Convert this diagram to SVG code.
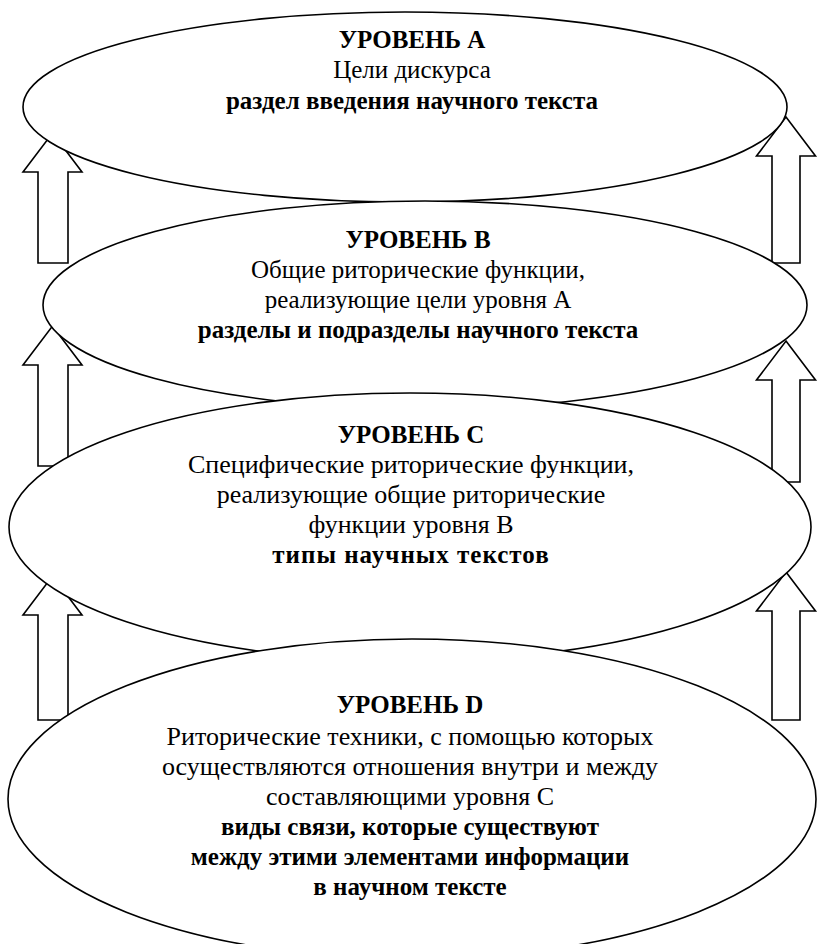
<svg xmlns="http://www.w3.org/2000/svg" width="824" height="944" viewBox="0 0 824 944">
<style>
.shape{fill:#fff;stroke:#000;stroke-width:1.6}
.arrow{fill:#fff;stroke:#000;stroke-width:1.6;stroke-linejoin:miter}
text{font-family:"Liberation Serif","Times New Roman",serif;font-size:25px;fill:#000;text-anchor:middle}
.b{font-weight:bold}
.r{font-size:26px}
</style>
<rect width="824" height="944" fill="#fff"/>
<g id="connectors">
<polygon class="arrow" points="52.5,133 82,172 68,172 68,263 38,263 38,172 23,172"/>
<polygon class="arrow" points="786,117 815.5,156 800,156 800,263 772,263 772,156 756.5,156"/>
<polygon class="arrow" points="52.5,326 82,365 68,365 68,466 38,466 38,365 23,365"/>
<polygon class="arrow" points="786,341 815.5,380 800,380 800,482 772,482 772,380 756.5,380"/>
<polygon class="arrow" points="52.5,576 82,615 68,615 68,720 38,720 38,615 23,615"/>
<polygon class="arrow" points="786,572 815.5,611 800,611 800,720 772,720 772,611 756.5,611"/>
</g>
<g id="levelA">
<ellipse class="shape" cx="405" cy="107" rx="382" ry="95"/>
<text class="b" x="412" y="48">УРОВЕНЬ А</text>
<text x="412" y="78">Цели дискурса</text>
<text class="b" x="412" y="109">раздел введения научного текста</text>
</g>
<g id="levelB">
<ellipse class="shape" cx="425" cy="305" rx="382" ry="104"/>
<text class="b" x="418" y="248">УРОВЕНЬ В</text>
<text x="418" y="278">Общие риторические функции,</text>
<text x="418" y="308">реализующие цели уровня А</text>
<text class="b" x="418" y="338">разделы и подразделы научного текста</text>
</g>
<g id="levelC">
<ellipse class="shape" cx="410" cy="527" rx="401" ry="134"/>
<text class="b" x="411" y="443">УРОВЕНЬ С</text>
<text class="r" x="411" y="473">Специфические риторические функции,</text>
<text class="r" x="411" y="503">реализующие общие риторические</text>
<text class="r" x="411" y="533">функции уровня В</text>
<text class="b" x="411" y="563" letter-spacing="1">типы научных текстов</text>
</g>
<g id="levelD">
<ellipse class="shape" cx="412" cy="799" rx="404" ry="160"/>
<text class="b" x="410" y="713">УРОВЕНЬ D</text>
<text class="r" x="410" y="745">Риторические техники, с помощью которых</text>
<text class="r" x="410" y="775">осуществляются отношения внутри и между</text>
<text class="r" x="410" y="805">составляющими уровня С</text>
<text class="b" x="410" y="835">виды связи, которые существуют</text>
<text class="b" x="410" y="865">между этими элементами информации</text>
<text class="b" x="410" y="895">в научном тексте</text>
</g>
</svg>
